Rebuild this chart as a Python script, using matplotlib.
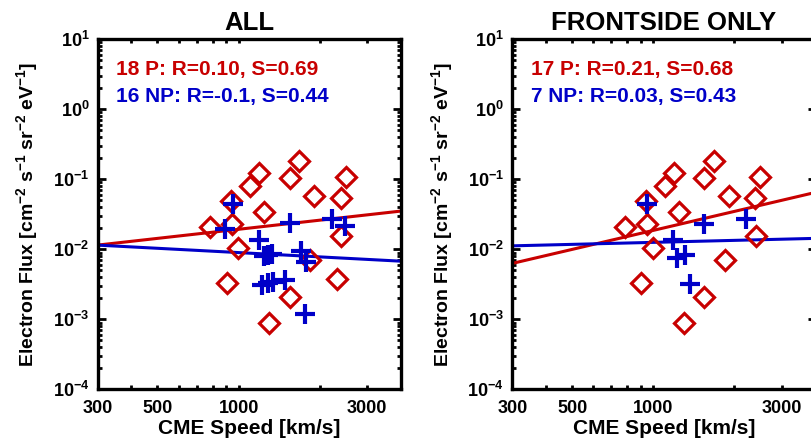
import numpy as np
import matplotlib
matplotlib.use('Agg')
import matplotlib.pyplot as plt
from matplotlib.ticker import FixedLocator, FixedFormatter, NullFormatter

plt.rcParams['font.family'] = ['Liberation Sans', 'DejaVu Sans']
plt.rcParams['font.weight'] = 'bold'
plt.rcParams['mathtext.fontset'] = 'custom'
plt.rcParams['mathtext.rm'] = 'Liberation Sans:bold'
plt.rcParams['mathtext.bf'] = 'Liberation Sans:bold'
plt.rcParams['mathtext.it'] = 'Liberation Sans:bold'
plt.rcParams['mathtext.default'] = 'rm'

RED = '#c80000'
BLUE = '#0000c8'

# ALL events: prompt (P) and non-prompt (NP)
all_p_speed = [783, 937, 946, 996, 902, 1101, 1192, 1241, 1299, 1674,
               1549, 1903, 1838, 1549, 2493, 2389, 2403, 2314]
all_p_flux = [0.0206, 0.049, 0.023, 0.0103, 0.00332, 0.080, 0.122, 0.034, 0.00089, 0.185,
              0.103, 0.0577, 0.0070, 0.00205, 0.109, 0.0546, 0.0154, 0.00375]
all_np_speed = [949, 890, 1192, 1241, 1335, 1290, 1220, 1340, 1483, 1280,
                1557, 1702, 1776, 1761, 2225, 2472]
all_np_flux = [0.0443, 0.0196, 0.0135, 0.0080, 0.0085, 0.0082, 0.00308, 0.0034, 0.00362, 0.0033,
               0.0235, 0.0094, 0.0066, 0.00121, 0.0268, 0.0215]

# frontside only
front_p_speed = [783, 937, 946, 996, 902, 1101, 1192, 1241, 1299, 1674,
                 1549, 1903, 1838, 1549, 2493, 2389, 2403]
front_p_flux = [0.0206, 0.049, 0.023, 0.0103, 0.00332, 0.080, 0.122, 0.034, 0.00089, 0.185,
                0.103, 0.0577, 0.0070, 0.00205, 0.109, 0.0546, 0.0154]
front_np_speed = [945, 1187, 1226, 1310, 1369, 1546, 2202]
front_np_flux = [0.0443, 0.0135, 0.0074, 0.0083, 0.0032, 0.0227, 0.0268]

# fit lines: log10(flux) = a + b*log10(speed)
all_p_fit = (-3.01, 0.432)
all_np_fit = (-1.435, -0.204)
front_p_fit = (-4.436, 0.902)
front_np_fit = (-2.186, 0.095)

all_labels = ['18 P: R=0.10, S=0.69', '16 NP: R=-0.1, S=0.44']
front_labels = ['17 P: R=0.21, S=0.68', '7 NP: R=0.03, S=0.43']

x_tick_vals = [300, 500, 1000, 3000]
x_tick_labels = ['300', '500', '1000', '3000']
x_minor_vals = [400, 600, 700, 800, 900, 2000, 4000]
y_decades = [1e-4, 1e-3, 1e-2, 1e-1, 1e0, 1e1]
y_tick_labels = ['$10^{-4}$', '$10^{-3}$', '$10^{-2}$', '$10^{-1}$', '$10^{0}$', '$10^{1}$']


def draw_panel(ax, title, ps, pf, ns, nf, pfit, nfit, labels):
    ax.set_xscale('log')
    ax.set_yscale('log')
    ax.set_xlim(300, 4000)
    ax.set_ylim(1e-4, 1e1)

    xs = np.array(ax.get_xlim())
    ax.plot(xs, 10 ** (pfit[0] + pfit[1] * np.log10(xs)), color=RED, lw=2.2, zorder=2)
    ax.plot(xs, 10 ** (nfit[0] + nfit[1] * np.log10(xs)), color=BLUE, lw=2.2, zorder=2)

    ax.plot(ps, pf, ls='none', marker='D', ms=10, mfc='none', mec=RED, mew=2.3, zorder=3)
    ax.plot(ns, nf, ls='none', marker='+', ms=14, mec=BLUE, mew=3, zorder=4)

    ax.text(0.062, 0.898, labels[0], color=RED, fontsize=15, fontweight='bold',
            transform=ax.transAxes)
    ax.text(0.062, 0.822, labels[1], color=BLUE, fontsize=15, fontweight='bold',
            transform=ax.transAxes)

    ax.set_title(title, fontsize=18.5, fontweight='bold', pad=7)
    ax.set_xlabel('CME Speed [km/s]', fontsize=15, fontweight='bold', labelpad=1)
    ax.set_ylabel('Electron Flux [cm$^{-2}$ s$^{-1}$ sr$^{-2}$ eV$^{-1}$]',
                  fontsize=14, fontweight='bold')
    ax.yaxis.set_label_coords(-0.19, 0.5)

    ax.xaxis.set_major_locator(FixedLocator(x_tick_vals))
    ax.xaxis.set_major_formatter(FixedFormatter(x_tick_labels))
    ax.xaxis.set_minor_locator(FixedLocator(x_minor_vals))
    ax.xaxis.set_minor_formatter(NullFormatter())

    ax.yaxis.set_major_locator(FixedLocator(y_decades))
    ax.yaxis.set_major_formatter(FixedFormatter(y_tick_labels))
    ax.yaxis.set_minor_locator(FixedLocator([m * d for d in y_decades[:-1] for m in range(2, 10)]))
    ax.yaxis.set_minor_formatter(NullFormatter())

    ax.tick_params(which='both', direction='in', top=True, right=True, width=2, labelsize=13)
    ax.tick_params(axis='x', which='major', length=3, pad=8)
    ax.tick_params(axis='x', which='minor', length=3)
    ax.tick_params(axis='y', which='major', length=6, pad=6)
    ax.tick_params(axis='y', which='minor', length=3)
    # longer tick at 1000
    for t in ax.xaxis.get_major_ticks():
        if t.get_loc() == 1000:
            t.tick1line.set_markersize(8)
            t.tick2line.set_markersize(8)

    for sp in ax.spines.values():
        sp.set_linewidth(2.4)


fig = plt.figure(figsize=(8.12, 4.44), dpi=100)
ax1 = fig.add_axes([0.1203, 0.1232, 0.3735, 0.7883])
ax2 = fig.add_axes([0.6309, 0.1232, 0.3735, 0.7883])

draw_panel(ax1, 'ALL', all_p_speed, all_p_flux, all_np_speed, all_np_flux,
           all_p_fit, all_np_fit, all_labels)
draw_panel(ax2, 'FRONTSIDE ONLY', front_p_speed, front_p_flux, front_np_speed, front_np_flux,
           front_p_fit, front_np_fit, front_labels)

fig.savefig('out.png', dpi=100)
